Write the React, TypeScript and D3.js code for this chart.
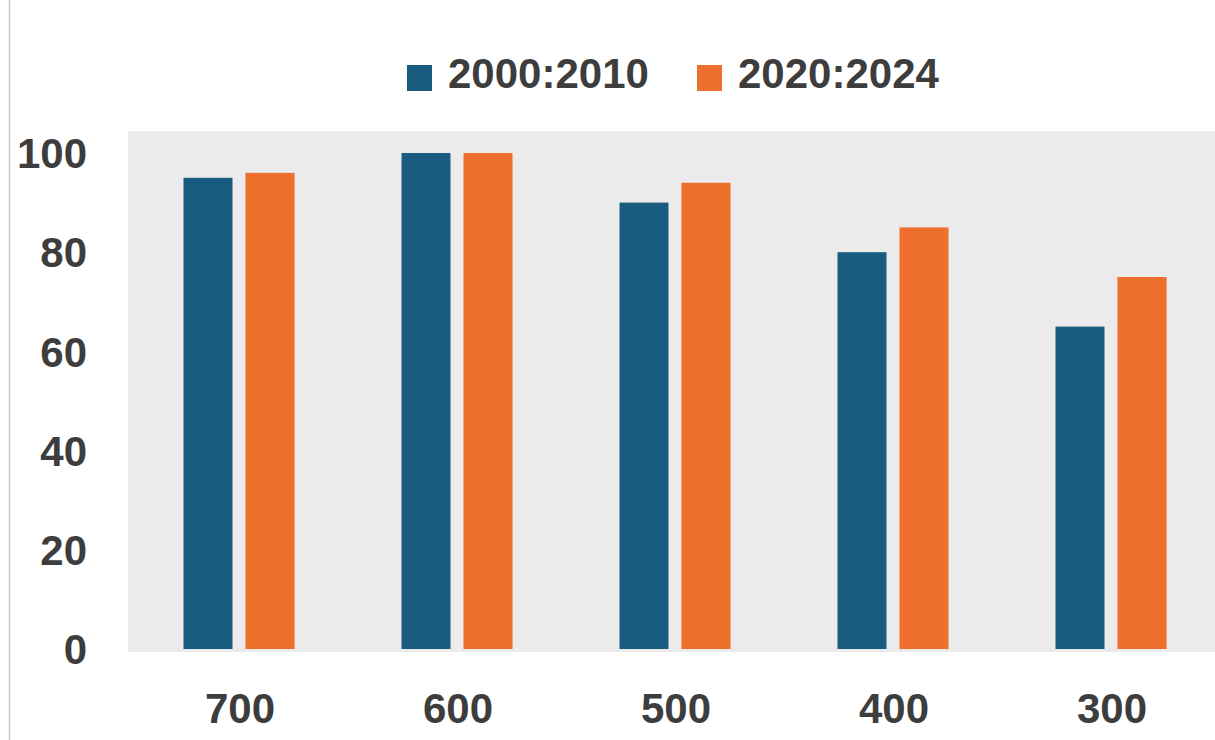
import React from "react";
import * as d3 from "d3";

const categories = ["700", "600", "500", "400", "300"];
const seriesNames = ["2000:2010", "2020:2024"];
const series2000to2010 = [95, 100, 90, 80, 65];
const series2020to2024 = [96, 100, 94, 85, 75];
const yTicks = [0, 20, 40, 60, 80, 100];
const seriesColors = ["#1a5b80", "#ee6e2b"];

const W = 1215;
const H = 740;
const FONT = "'Liberation Sans', Arial, sans-serif";
const TEXT = "#3d3d3d";

export default function App() {
  const values = [series2000to2010, series2020to2024];
  const y = d3.scaleLinear().domain([0, 100]).range([649, 153]);
  const x0 = d3.scaleBand<string>().domain(categories).range([130, 1220]).padding(0);
  const x1 = d3
    .scaleBand<string>()
    .domain(seriesNames)
    .range([-55.5, 55.5])
    .paddingInner(0.21)
    .paddingOuter(0);

  const legendX = [407, 697];

  return (
    <svg
      width={W}
      height={H}
      style={{ position: "absolute", left: 0, top: 0, background: "#fff" }}
      fontFamily={FONT}
    >
      <rect x={0} y={0} width={W} height={H} fill="#ffffff" />
      <line x1={9.5} x2={9.5} y1={0} y2={H} stroke="#c9c9c9" strokeWidth={1.5} />

      {/* plot area */}
      <rect x={128} y={131} width={W - 128} height={652 - 131} fill="#ebebeb" />

      {/* bars */}
      {categories.map((c, i) => {
        const cx = (x0(c) ?? 0) + x0.bandwidth() / 2;
        return (
          <g key={c}>
            {seriesNames.map((s, j) => (
              <rect
                key={s}
                x={cx + (x1(s) ?? 0)}
                y={y(values[j][i])}
                width={x1.bandwidth()}
                height={y(0) - y(values[j][i])}
                fill={seriesColors[j]}
              />
            ))}
          </g>
        );
      })}

      {/* y axis labels */}
      {yTicks.map((t) => (
        <text
          key={t}
          x={87}
          y={y(t)}
          dy="0.36em"
          textAnchor="end"
          fontSize={42}
          fontWeight="bold"
          fill={TEXT}
        >
          {t}
        </text>
      ))}

      {/* x axis labels */}
      {categories.map((c) => (
        <text
          key={c}
          x={(x0(c) ?? 0) + x0.bandwidth() / 2 + 1}
          y={723}
          textAnchor="middle"
          fontSize={42}
          fontWeight="bold"
          fill={TEXT}
        >
          {c}
        </text>
      ))}

      {/* legend */}
      {seriesNames.map((s, j) => (
        <g key={s} transform={`translate(${legendX[j]},0)`}>
          <rect x={0} y={65} width={25} height={26} fill={seriesColors[j]} />
          <text x={41} y={88} fontSize={42} fontWeight="bold" fill={TEXT}>
            {s}
          </text>
        </g>
      ))}
    </svg>
  );
}
